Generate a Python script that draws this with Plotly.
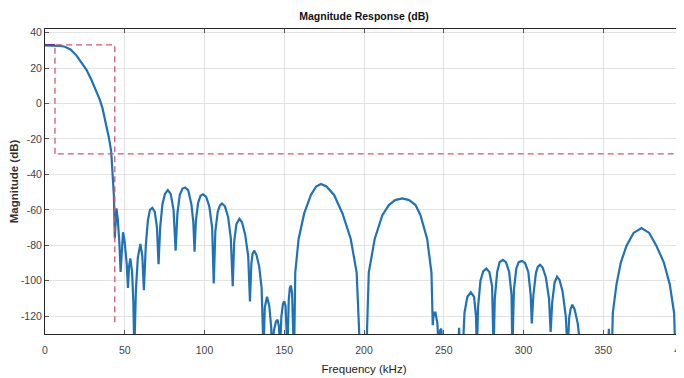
import plotly.graph_objects as go

# ---- data ----
freq_khz = [
    0, 5, 10, 12.5, 16, 19.8, 23, 26, 29, 32.3, 34.4, 36, 38, 40, 41.5, 42.5, 43.2, 43.75,
    44.8, 45.6, 46.6, 47.4, 48.2, 48.9, 49.8, 51.2, 52.0, 52.7, 53.5, 54.6, 55.4, 56.0,
    57.0, 58.2, 59.8, 61.0, 62.0, 63.2, 64.5, 65.8, 67.3, 68.8, 70.2, 71.2, 72.2, 73.6,
    75.2, 77, 78.8, 80.6, 81.9, 83.0, 84.5, 86.2, 87.9, 89.8, 91.8, 93.0, 93.75, 94.6,
    96.0, 97.5, 99, 101, 103, 104.8, 105.8, 106.8, 108.3, 109.7, 111, 112.8, 114.8, 116.5,
    117.7, 118.6, 120.0, 121.9, 123.5, 125.5, 127.4, 128.5, 129.4, 130.2, 131.25, 132.6,
    134.3, 135.8, 137, 137.8, 139.2, 140.6, 141.8, 142.3, 143.5, 144.8, 145.8, 146.7,
    147.3, 148.2, 149.2, 150, 150.8, 151.6, 152, 152.8, 153.5, 154.2, 154.9, 155.6,
    156.2, 156.9, 159, 162.5, 166.7, 170, 173, 176.5, 181.25, 186.5, 191.7, 195.4, 197.5,
    201.5, 203, 206.7, 211.5, 215.6, 219.5, 224, 228.3, 232.3, 235.4, 239.6, 242.3, 243.1,
    243.8, 244.8, 246, 246.9, 247.7, 248.5, 249.2,
    259.0, 259.6, 260.3,
    261.9, 263, 264.8, 267, 269, 270.2, 270.8, 271.5, 273, 274.8, 276.7, 278.6, 280.3,
    281.25, 282, 283.5, 285, 287, 289, 291, 292.5, 293, 294, 295.5, 297, 299, 301, 303,
    304.5, 305.2, 306.2, 307.8, 309, 310.4, 312, 314, 316, 317, 318, 319.5, 321, 322.6,
    324.5, 326.5, 327.7, 328.6, 329.5, 330.6, 332, 334, 336,
    353, 353.5, 354.2,
    355.4, 356, 358.3, 361, 364.6, 369, 374, 378.8, 383.3, 388, 391.7, 394.4, 395.2, 400,
]
magnitude_db = [
    32.8, 32.7, 32.4, 32.0, 30.5, 27.0, 23.0, 19.0, 13.5, 7.0, 2.0, -2.5, -10, -19, -27, -40, -52, -76,
    -59.2, -65, -78, -95, -78, -72.6, -77, -90, -104, -92, -87.4, -95, -112, -140,
    -105, -87, -79.2, -86, -105.3, -80, -66, -60, -58.9, -61, -70, -90.7, -70, -57,
    -51, -48.8, -51, -60, -83, -62, -51.5, -48, -47.4, -49, -57, -67, -83.6, -66,
    -56, -52, -51.2, -52.5, -58, -70, -101.5, -72, -61, -57.5, -56.4, -58, -64, -76,
    -103, -78, -68, -65, -67, -74, -86, -111.6, -90, -84.5, -83, -85.5,
    -92, -104, -140, -115, -109, -114, -126, -140, -128, -123, -122, -126,
    -140, -120, -113, -111.6, -114, -125, -140, -111, -104, -102.7, -107, -128.6,
    -140, -95.4, -76.4, -62, -51.6, -46.8, -45.4, -46.8, -51.6, -62, -76.4, -95.4, -140,
    -140, -95.4, -76.4, -63, -57.3, -54.5, -53.5, -54.5, -57.3, -63, -76.4, -95.4, -125,
    -118, -118, -124, -140, -128, -127, -140,
    -140, -126.5, -140,
    -140, -118, -109, -106.5, -109, -120, -140, -115, -100, -94.5, -93.1, -95, -103,
    -140, -110, -95, -89.5, -88.2, -89.5, -95, -108, -140, -105, -93, -89.5, -88.8, -90, -95,
    -108, -124, -108, -95.5, -92, -91, -92.5, -98, -110, -128.8, -112, -101, -97.7, -99.5,
    -106, -120, -140, -121, -116, -113.5, -116, -124, -140,
    -140, -127, -140,
    -140, -118, -102, -89.7, -80.2, -73, -70.3, -73, -80.2, -89.7, -102, -118, -140, -140,
]

# specification mask (dashed red)
mask_box_x = [6.25, 6.25, 43.75, 43.75]
mask_box_y = [-28.4, 33.0, 33.0, -125]
mask_top_x = [0, 6.25]
mask_top_y = [33.0, 33.0]
mask_stop_x = [8, 400]
mask_stop_y = [-28.4, -28.4]

x_ticks = [0, 50, 100, 150, 200, 250, 300, 350, 400]
y_ticks = [40, 20, 0, -20, -40, -60, -80, -100, -120]

FONT = "Liberation Sans, Arial, sans-serif"
MASK_COLOR = "#cc5a72"
LINE_COLOR = "#1f72b6"

fig = go.Figure()
fig.add_trace(go.Scatter(x=freq_khz, y=magnitude_db, mode="lines",
                         line=dict(color=LINE_COLOR, width=2.2), hoverinfo="skip"))
fig.add_trace(go.Scatter(x=mask_top_x, y=mask_top_y, mode="lines",
                         line=dict(color="#6a3a8a", width=2), hoverinfo="skip"))
for mx, my in [(mask_box_x, mask_box_y), (mask_stop_x, mask_stop_y)]:
    fig.add_trace(go.Scatter(x=mx, y=my, mode="lines",
                             line=dict(color=MASK_COLOR, width=1.3, dash="6px,4px"),
                             hoverinfo="skip"))

axis_common = dict(
    showgrid=True, gridcolor="#e3e3e3", gridwidth=1,
    showline=True, linecolor="#262626", linewidth=1, mirror="ticks",
    ticks="inside", ticklen=4, tickcolor="#555555",
    zeroline=False, automargin=False,
    tickfont=dict(family=FONT, size=10.5, color="#444444"),
)

# the page body adds an 8px offset, so margins are set 8px smaller
fig.update_layout(
    width=684, height=378,
    margin=dict(l=37, r=9, t=21, b=52),
    paper_bgcolor="white", plot_bgcolor="white",
    showlegend=False,
    title=dict(text="<b>Magnitude Response (dB)</b>", x=0.5205, xanchor="center",
               y=0.979, yanchor="middle",
               font=dict(family=FONT, size=10.5, color="#111111")),
    font=dict(family=FONT),
)
fig.update_xaxes(range=[0, 400], tickvals=x_ticks, ticktext=[str(v) for v in x_ticks],
                 ticklabelstandoff=6,
                 title=dict(text="Frequency (kHz)", standoff=10,
                            font=dict(family=FONT, size=11.5, color="#222222")),
                 **axis_common)
fig.update_yaxes(range=[-130, 42], tickvals=y_ticks, ticktext=[str(v) for v in y_ticks],
                 title=dict(text="<b>Magnitude (dB)</b>", standoff=2,
                            font=dict(family=FONT, size=11.5, color="#333333")),
                 **axis_common)

fig.write_html("out.html")
